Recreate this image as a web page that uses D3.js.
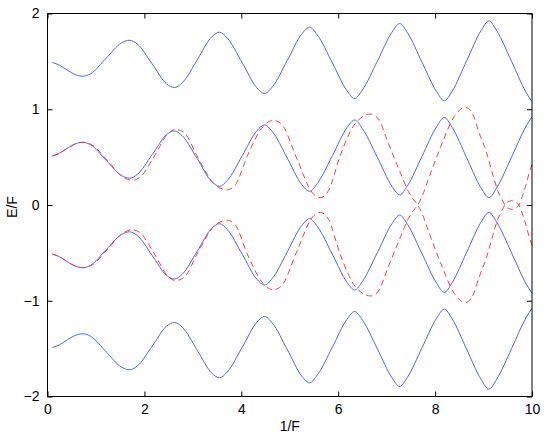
<!DOCTYPE html>
<html>
<head>
<meta charset="utf-8">
<script src="https://cdn.jsdelivr.net/npm/d3@7"></script>
<style>
  body { margin: 0; background: #fff; }
  text { font-family: "Liberation Sans", Arial, sans-serif; font-size: 14px; fill: #000; }
</style>
</head>
<body>
<script>
// x positions shared by the four solid curves
const blueX = [0.10, 0.25, 0.40, 0.55, 0.73, 0.89, 1.21, 1.53, 1.69, 1.85, 2.16, 2.46, 2.62,
    2.78, 3.09, 3.39, 3.55, 3.71, 4.02, 4.32, 4.48, 4.64, 4.95, 5.25, 5.41, 5.57, 5.88, 6.18, 6.34,
    6.50, 6.81, 7.11, 7.27, 7.43, 7.73, 8.03, 8.19, 8.35, 8.65, 8.95, 9.11, 9.27, 9.58, 9.88, 10.0];

const blueOuterTop = [1.488, 1.459, 1.411, 1.367, 1.345, 1.371, 1.533, 1.694, 1.720, 1.683, 1.474, 1.264, 1.227,
    1.276, 1.516, 1.756, 1.805, 1.744, 1.485, 1.225, 1.164, 1.233, 1.511, 1.788, 1.857, 1.775, 1.485, 1.194, 1.112,
    1.202, 1.504, 1.805, 1.895, 1.798, 1.491, 1.184, 1.087, 1.187, 1.505, 1.823, 1.923, 1.821, 1.498, 1.174, 1.078];

const blueInnerTop = [0.512, 0.541, 0.589, 0.633, 0.655, 0.629, 0.467, 0.306, 0.280, 0.317, 0.526, 0.736, 0.773,
    0.724, 0.484, 0.244, 0.195, 0.256, 0.515, 0.775, 0.836, 0.767, 0.489, 0.212, 0.143, 0.225, 0.515, 0.806, 0.888,
    0.798, 0.496, 0.195, 0.105, 0.202, 0.509, 0.816, 0.913, 0.813, 0.495, 0.177, 0.077, 0.179, 0.502, 0.826, 0.922];

const blueInnerBottom = [-0.512, -0.541, -0.589, -0.633, -0.655, -0.629, -0.467, -0.306, -0.280, -0.317, -0.526, -0.736, -0.773,
    -0.724, -0.484, -0.244, -0.195, -0.256, -0.515, -0.775, -0.836, -0.767, -0.489, -0.212, -0.143, -0.225, -0.515, -0.806, -0.888,
    -0.798, -0.496, -0.195, -0.105, -0.202, -0.509, -0.816, -0.913, -0.813, -0.495, -0.177, -0.077, -0.179, -0.502, -0.826, -0.922];

const blueOuterBottom = [-1.488, -1.459, -1.411, -1.367, -1.345, -1.371, -1.533, -1.694, -1.720, -1.683, -1.474, -1.264, -1.227,
    -1.276, -1.516, -1.756, -1.805, -1.744, -1.485, -1.225, -1.164, -1.233, -1.511, -1.788, -1.857, -1.775, -1.485, -1.194, -1.112,
    -1.202, -1.504, -1.805, -1.895, -1.798, -1.491, -1.184, -1.087, -1.187, -1.505, -1.823, -1.923, -1.821, -1.498, -1.174, -1.078];

// dashed curves
const redX = [0.10, 0.25, 0.40, 0.55, 0.75, 0.92, 1.24, 1.57, 1.75, 1.91, 2.20, 2.48, 2.64,
    2.82, 3.12, 3.45, 3.71, 3.87, 4.13, 4.45, 4.66, 4.83, 5.15, 5.47, 5.63, 5.80, 6.04, 6.35, 6.67,
    6.83, 7.01, 7.29, 7.45, 7.55, 7.64, 7.74, 7.84, 8.11, 8.39, 8.62, 8.77, 8.91, 9.06, 9.20, 9.30,
    9.37, 9.44, 9.50, 9.58, 9.66, 9.73, 9.80, 9.87, 9.94, 10.0];

const redA = [0.512, 0.541, 0.589, 0.633, 0.655, 0.627, 0.462, 0.288, 0.258, 0.290, 0.505, 0.740, 0.790,
    0.755, 0.480, 0.215, 0.160, 0.205, 0.520, 0.820, 0.885, 0.845, 0.480, 0.125, 0.077, 0.150, 0.513, 0.850, 0.950,
    0.900, 0.676, 0.328, 0.140, 0.060, 0.000, -0.100, -0.240, -0.600, -0.920, -1.020, -0.955, -0.750, -0.550, -0.300, -0.140,
    -0.067, 0.000, 0.032, 0.045, 0.032, 0.000, -0.090, -0.200, -0.330, -0.420];

const redB = [-0.512, -0.541, -0.589, -0.633, -0.655, -0.627, -0.462, -0.288, -0.258, -0.290, -0.505, -0.740, -0.790,
    -0.755, -0.480, -0.215, -0.160, -0.205, -0.520, -0.820, -0.885, -0.845, -0.480, -0.125, -0.077, -0.150, -0.513, -0.850, -0.950,
    -0.900, -0.676, -0.328, -0.140, -0.060, 0.000, 0.100, 0.240, 0.600, 0.920, 1.020, 0.955, 0.750, 0.550, 0.300, 0.140,
    0.067, 0.000, -0.032, -0.045, -0.032, 0.000, 0.090, 0.200, 0.330, 0.420];

const xTicks = [0, 2, 4, 6, 8, 10];
const yTicks = [-2, -1, 0, 1, 2];

const WIDTH = 545;
const HEIGHT = 438;
const PLOT = {
    LEFT : 47.5,
    RIGHT : 532,
    TOP : 13.5,
    BOTTOM : 396.5,
};
const TICK = 5;

var svg = d3.select("body").append("svg")
    .attr("width", WIDTH)
    .attr("height", HEIGHT);

const x = d3.scaleLinear().domain([0, 10]).range([PLOT.LEFT, PLOT.RIGHT]);
const y = d3.scaleLinear().domain([-2, 2]).range([PLOT.BOTTOM, PLOT.TOP]);

const line = d3.line()
    .x(d => x(d[0]))
    .y(d => y(d[1]))
    .curve(d3.curveMonotoneX);

const blueCurves = [blueOuterTop, blueInnerTop, blueInnerBottom, blueOuterBottom];
svg.append("g")
    .selectAll("path")
    .data(blueCurves)
    .enter()
    .append("path")
    .attr("d", ys => line(blueX.map((v, i) => [v, ys[i]])))
    .attr("fill", "none")
    .attr("stroke", "#4d63ff")
    .attr("stroke-width", 1);

svg.append("g")
    .selectAll("path")
    .data([redA, redB])
    .enter()
    .append("path")
    .attr("d", ys => line(redX.map((v, i) => [v, ys[i]])))
    .attr("fill", "none")
    .attr("stroke", "#ff3b3b")
    .attr("stroke-width", 1)
    .attr("stroke-dasharray", "6,4");

// axes, MATLAB style: ticks inside on all four sides
const xAxisB = d3.axisBottom(x).tickValues(xTicks).tickSizeInner(-TICK).tickSizeOuter(0).tickPadding(8);
const xAxisT = d3.axisTop(x).tickValues(xTicks).tickSizeInner(-TICK).tickSizeOuter(0).tickFormat("");
const yAxisL = d3.axisLeft(y).tickValues(yTicks).tickSizeInner(-TICK).tickSizeOuter(0).tickPadding(8)
    .tickFormat(d => d < 0 ? "\u2212" + Math.abs(d) : String(d));
const yAxisR = d3.axisRight(y).tickValues(yTicks).tickSizeInner(-TICK).tickSizeOuter(0).tickFormat("");

function styleAxis(g) {
    g.select(".domain").remove();
    g.selectAll("line").attr("stroke", "#000");
    g.selectAll("text").attr("font-size", 14).attr("font-family", "Liberation Sans, Arial, sans-serif").attr("fill", "#000");
}

svg.append("g").attr("transform", `translate(0,${PLOT.BOTTOM})`).call(xAxisB).call(styleAxis);
svg.append("g").attr("transform", `translate(0,${PLOT.TOP})`).call(xAxisT).call(styleAxis);
svg.append("g").attr("transform", `translate(${PLOT.LEFT},0)`).call(yAxisL).call(styleAxis);
svg.append("g").attr("transform", `translate(${PLOT.RIGHT},0)`).call(yAxisR).call(styleAxis);

svg.append("rect")
    .attr("x", PLOT.LEFT)
    .attr("y", PLOT.TOP)
    .attr("width", PLOT.RIGHT - PLOT.LEFT)
    .attr("height", PLOT.BOTTOM - PLOT.TOP)
    .attr("fill", "none")
    .attr("stroke", "#000")
    .attr("stroke-width", 1);

svg.append("text")
    .attr("x", (PLOT.LEFT + PLOT.RIGHT) / 2)
    .attr("y", 431)
    .attr("text-anchor", "middle")
    .text("1/F");

svg.append("text")
    .attr("transform", "translate(17,207) rotate(-90)")
    .attr("text-anchor", "middle")
    .text("E/F");
</script>
</body>
</html>
